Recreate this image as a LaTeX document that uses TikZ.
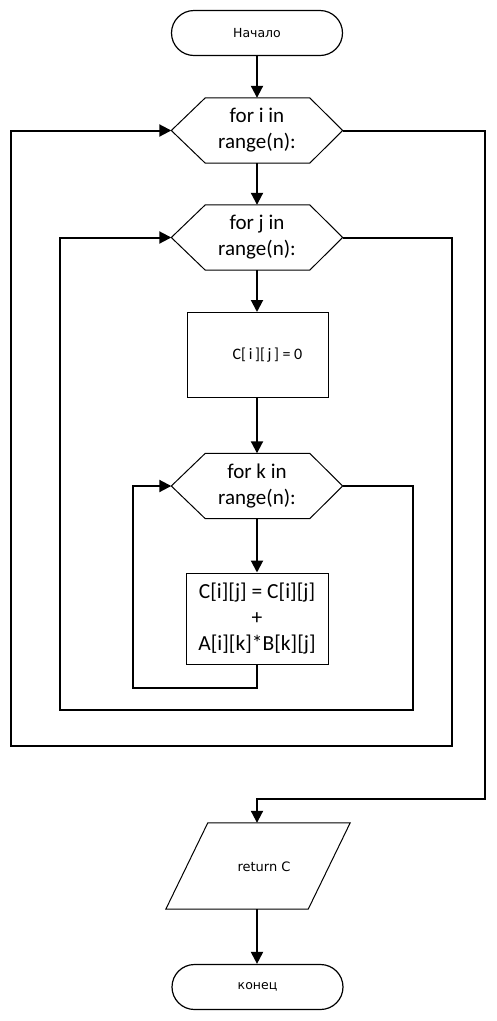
\documentclass[tikz,border=0pt]{standalone}
\usepackage{fontspec}
\setmainfont{Carlito}
\newfontfamily\dvfont{DejaVu Sans}
\usetikzlibrary{arrows.meta,shapes.misc}
\tikzset{
  conn/.style={line width=2pt,-{Triangle[length=12pt,width=12pt]}},
  termbox/.style={rounded rectangle,draw,line width=1.2pt,minimum width=171pt,minimum height=45pt,inner sep=0pt,font=\dvfont\fontsize{12.5}{15}\selectfont},
  hexbox/.style={rectangle,draw=none,minimum width=171pt,minimum height=65pt,inner sep=0pt,align=center,font=\fontsize{21}{26}\selectfont},
  procbox/.style={rectangle,draw,line width=1pt,inner sep=0pt,align=center},
  iobox/.style={rectangle,draw=none,minimum width=142pt,minimum height=86pt,inner sep=0pt,font=\dvfont\fontsize{13}{15}\selectfont},
  shapeline/.style={line width=1pt}
}
\newcommand\drawhexagon[1]{%
  \draw[shapeline] (#1.west) -- ([xshift=34pt]#1.north west) -- ([xshift=-33pt]#1.north east)
    -- (#1.east) -- ([xshift=-33pt]#1.south east) -- ([xshift=34pt]#1.south west) -- cycle;}
\begin{document}
\begin{tikzpicture}[x=1pt,y=-1pt]
\useasboundingbox (0,0) rectangle (496,1021);
% nodes
\node[termbox] (start) at (257,33) {Начало};
\node[hexbox] (hi) at (257,130.5) {for i in\\range(n):};
\drawhexagon{hi}
\node[hexbox] (hj) at (257,237.5) {for j in\\range(n):};
\drawhexagon{hj}
\node[procbox,minimum width=141pt,minimum height=85pt] (b0) at (257.5,355) {};
\node[font=\fontsize{16}{19}\selectfont] (b0t) at (267.5,355) {C[\,i\,][\,j\,] = 0};
\node[hexbox] (hk) at (257,486) {for k in\\range(n):};
\drawhexagon{hk}
\node[procbox,minimum width=142pt,minimum height=91pt,font=\fontsize{21.5}{26}\selectfont] (b1) at (257,618.5) {C[i][j] = C[i][j]\\+\\A[i][k]*B[k][j]};
\node[iobox] (ret) at (258,866) {};
\draw[shapeline] ([xshift=-21pt]ret.south west) -- ([xshift=-21pt]ret.south east) -- ([xshift=21pt]ret.north east) -- ([xshift=21pt]ret.north west) -- cycle;
\node[font=\dvfont\fontsize{13}{15}\selectfont] (rett) at (264,867) {return C};
\node[termbox] (end) at (257.5,987) {конец};
% coordinates
\coordinate (k1) at (257,688);
\coordinate (k2) at (132.5,688);
\coordinate (k3) at (132.5,486);
\coordinate (ke1) at (412.5,486);
\coordinate (ke2) at (412.5,710);
\coordinate (ke3) at (60,710);
\coordinate (ke4) at (60,237.5);
\coordinate (je1) at (451.5,237.5);
\coordinate (je2) at (451.5,745.5);
\coordinate (je3) at (11,745.5);
\coordinate (je4) at (11,130.5);
\coordinate (ie1) at (485,130.5);
\coordinate (ie2) at (485,798.5);
\coordinate (ie3) at (257,798.5);
% connectors
\draw[conn] (start.south) -- (hi.north);
\draw[conn] (hi.south) -- (hj.north);
\draw[conn] (hj.south) -- (b0.north -| hj.south);
\draw[conn] (b0.south -| hj.south) -- (hk.north);
\draw[conn] (hk.south) -- (b1.north);
\draw[conn] (b1.south) -- (k1) -- (k2) -- (k3) -- (hk.west);
\draw[conn] (hk.east) -- (ke1) -- (ke2) -- (ke3) -- (ke4) -- (hj.west);
\draw[conn] (hj.east) -- (je1) -- (je2) -- (je3) -- (je4) -- (hi.west);
\draw[conn] (hi.east) -- (ie1) -- (ie2) -- (ie3) -- (ie3 |- ret.north);
\draw[conn] (ret.south -| ie3) -- (end.north -| ie3);
\end{tikzpicture}
\end{document}
